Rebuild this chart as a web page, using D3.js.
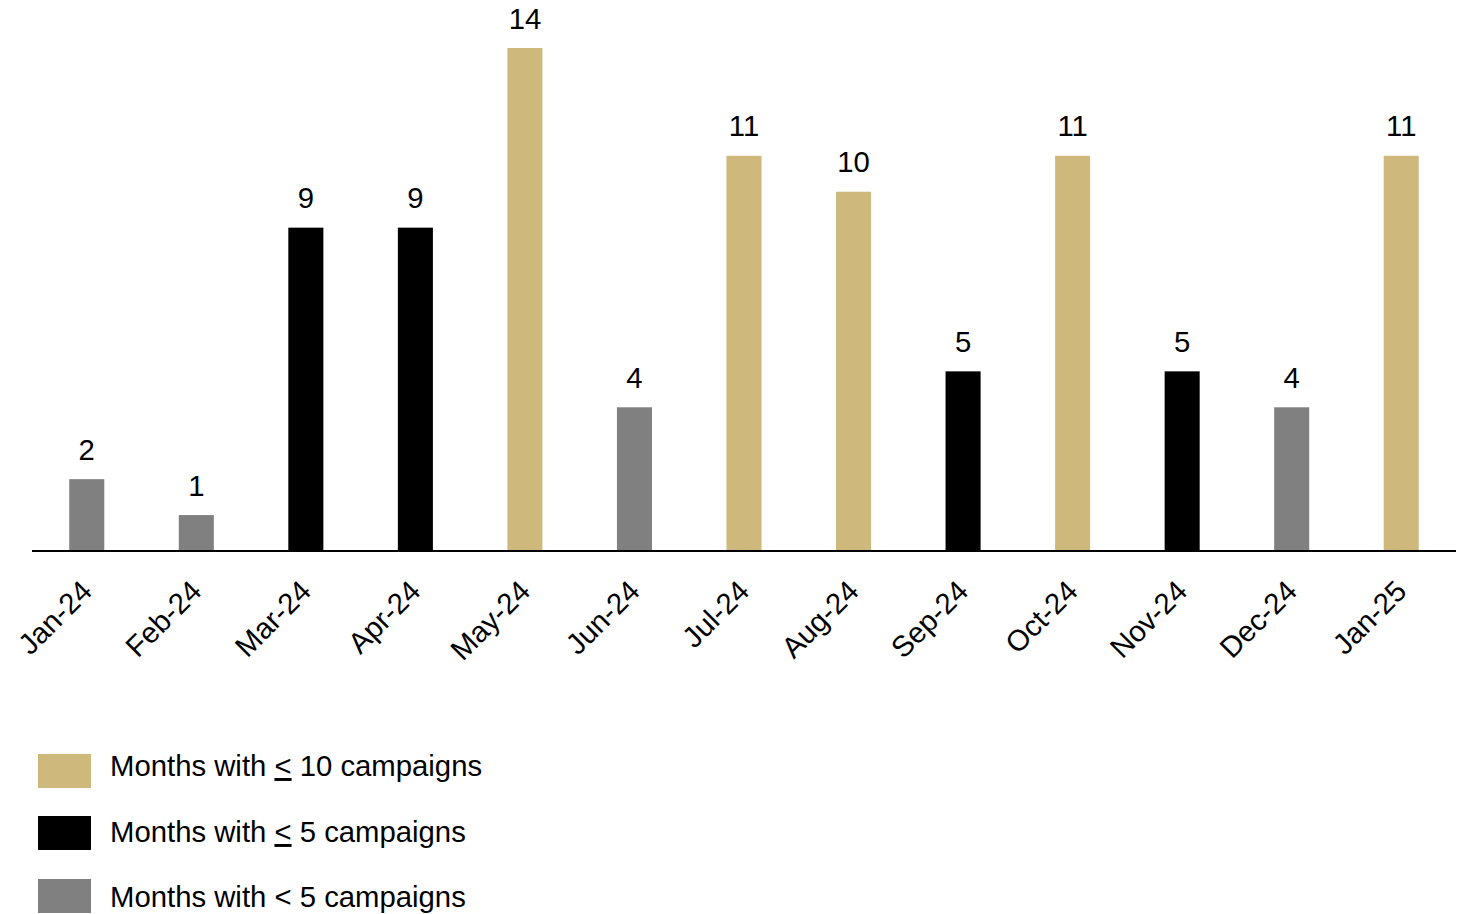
<!DOCTYPE html>
<html>
<head>
<meta charset="utf-8">
<script src="https://cdn.jsdelivr.net/npm/d3@7"></script>
<style>
  html, body { margin: 0; padding: 0; background: #ffffff; }
  svg { display: block; font-family: "Liberation Sans", Arial, sans-serif; }
</style>
</head>
<body>
<svg id="chart" width="1471" height="914"></svg>
<script>
// Monthly campaign counts
const months = ["Jan-24", "Feb-24", "Mar-24", "Apr-24", "May-24", "Jun-24", "Jul-24",
                "Aug-24", "Sep-24", "Oct-24", "Nov-24", "Dec-24", "Jan-25"];
const campaigns = [2, 1, 9, 9, 14, 4, 11, 10, 5, 11, 5, 4, 11];
// Tier each month belongs to (key into the legend below)
const tiers = ["low", "low", "mid", "mid", "high", "low", "high",
               "high", "mid", "high", "mid", "low", "high"];

// Legend entries: key, label before the symbol, symbol, label after the symbol, underline symbol?
const legendKeys = ["high", "mid", "low"];
const legendPrefix = ["Months with ", "Months with ", "Months with "];
const legendSymbol = ["<", "<", "<"];
const legendUnderline = [true, true, false];
const legendSuffix = [" 10 campaigns", " 5 campaigns", " 5 campaigns"];

const FONT = 29.3;

const tierColor = d3.scaleOrdinal()
  .domain(["high", "mid", "low"])
  .range(["#cfb87b", "#000000", "#808080"]);

const svg = d3.select("#chart");

const x = d3.scaleBand()
  .domain(months)
  .range([32, 1456])
  .paddingInner(0.68)
  .paddingOuter(0.34);

const y = d3.scaleLinear()
  .domain([0, 14])
  .range([551, 48]);

const data = months.map((m, i) => ({ month: m, value: campaigns[i], tier: tiers[i] }));

// Bars
svg.append("g")
  .selectAll("rect")
  .data(data)
  .join("rect")
  .attr("x", d => x(d.month))
  .attr("y", d => y(d.value))
  .attr("width", x.bandwidth())
  .attr("height", d => y(0) - y(d.value))
  .attr("fill", d => tierColor(d.tier));

// Value labels above bars
svg.append("g")
  .selectAll("text")
  .data(data)
  .join("text")
  .attr("x", d => x(d.month) + x.bandwidth() / 2)
  .attr("y", d => y(d.value) - 19.5)
  .attr("text-anchor", "middle")
  .attr("font-size", FONT)
  .attr("fill", "#000")
  .text(d => d.value);

// Category axis
const xAxis = svg.append("g")
  .attr("transform", `translate(0,${y(0)})`)
  .call(d3.axisBottom(x).tickSize(0).tickSizeOuter(0));

xAxis.select(".domain")
  .attr("stroke", "#000")
  .attr("stroke-width", 2)
  .attr("d", "M32,0H1456");

xAxis.selectAll(".tick text")
  .attr("font-size", FONT)
  .attr("font-family", "Liberation Sans, Arial, sans-serif")
  .attr("fill", "#000")
  .attr("text-anchor", "end")
  .attr("dy", 0)
  .attr("y", 0)
  .attr("transform", "translate(7,42) rotate(-45)");

// Legend
const legend = svg.append("g");
const swatchY = [754, 816, 879];
const textY = [776, 842, 907];
legendKeys.forEach((k, i) => {
  legend.append("rect")
    .attr("x", 38)
    .attr("y", swatchY[i])
    .attr("width", 53)
    .attr("height", 34)
    .attr("fill", tierColor(k));
  const t = legend.append("text")
    .attr("x", 110)
    .attr("y", textY[i])
    .attr("font-size", FONT)
    .attr("fill", "#000");
  t.append("tspan").text(legendPrefix[i]);
  t.append("tspan")
    .style("text-decoration", legendUnderline[i] ? "underline" : "none")
    .text(legendSymbol[i]);
  t.append("tspan").text(legendSuffix[i]);
});
</script>
</body>
</html>
